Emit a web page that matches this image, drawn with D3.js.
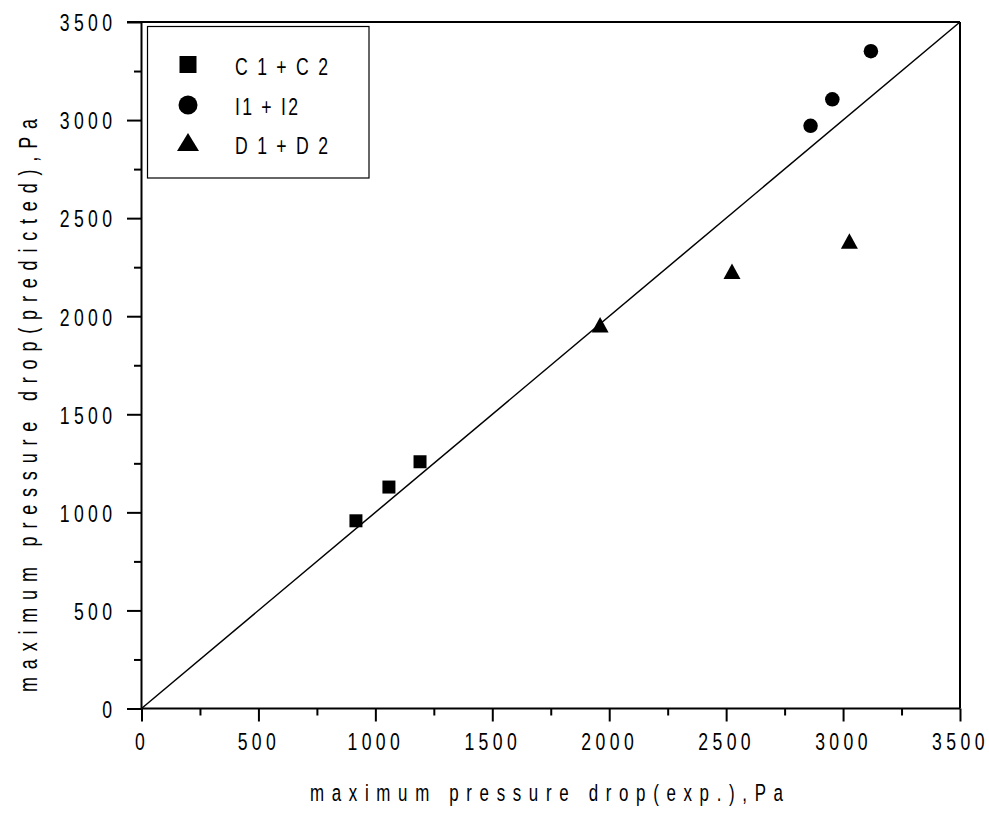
<!DOCTYPE html>
<html>
<head>
<meta charset="utf-8">
<script src="https://cdn.jsdelivr.net/npm/d3@7/dist/d3.min.js"></script>
<style>
  html, body { margin: 0; padding: 0; background: #fff; }
  svg { display: block; }
  text { font-family: "Liberation Sans", Arial, sans-serif; fill: #000; }
</style>
</head>
<body>
<script>
// Measured vs. predicted maximum pressure drop (Pa)
const seriesNames = ["C 1 + C 2", "I1 + I2", "D 1 + D 2"];
const seriesShapes = ["square", "circle", "triangle"];
const cExp  = [917, 1058, 1191];
const cPred = [957, 1129, 1258];
const iExp  = [2861, 2954, 3119];
const iPred = [2971, 3106, 3351];
const dExp  = [1961, 2525, 3027];
const dPred = [1957, 2229, 2383];
const majorTicks = [0, 500, 1000, 1500, 2000, 2500, 3000, 3500];
const minorTicks = [250, 750, 1250, 1750, 2250, 2750, 3250];
const parityLine = [0, 3500];
const xTitle = "maximum pressure drop(exp.),Pa";
const yTitle = "maximum pressure drop(predicted),Pa";

const W = 989, H = 818;
const SX = 0.72;          // horizontal condensing of all lettering
const tickFont = 24.5;
const tickSpacing = 6.1;  // letter-spacing before condensing

const svg = d3.select("body").append("svg").attr("width", W).attr("height", H);

const x = d3.scaleLinear().domain([0, 3500]).range([141.5, 960]);
const y = d3.scaleLinear().domain([0, 3500]).range([708.5, 22]);

// Marker shapes with bounding box centred on the point
function shapeType(kind, w, h) {
  return {
    draw(ctx) {
      if (kind === "square") {
        ctx.rect(-w / 2, -w / 2, w, w);
      } else if (kind === "circle") {
        ctx.moveTo(w / 2, 0);
        ctx.arc(0, 0, w / 2, 0, 2 * Math.PI);
      } else {
        ctx.moveTo(0, -h / 2);
        ctx.lineTo(w / 2, h / 2);
        ctx.lineTo(-w / 2, h / 2);
        ctx.closePath();
      }
    }
  };
}
const plotShapes = {
  square: shapeType("square", 13),
  circle: shapeType("circle", 14.5),
  triangle: shapeType("triangle", 17, 15.5)
};
const legendShapes = {
  square: shapeType("square", 17),
  circle: shapeType("circle", 19),
  triangle: shapeType("triangle", 22, 18)
};

// Frame (top and right)
svg.append("line").attr("x1", x(0) - 14.5).attr("x2", x(3500)).attr("y1", y(3500)).attr("y2", y(3500))
  .attr("stroke", "#000").attr("stroke-width", 2);
svg.append("line").attr("x1", x(3500)).attr("x2", x(3500)).attr("y1", y(3500)).attr("y2", y(0))
  .attr("stroke", "#000").attr("stroke-width", 2);

// Parity line y = x
svg.append("line")
  .attr("x1", x(parityLine[0])).attr("y1", y(parityLine[0]))
  .attr("x2", x(parityLine[1])).attr("y2", y(parityLine[1]))
  .attr("stroke", "#000").attr("stroke-width", 1.5);

// Axes
const xAxis = svg.append("g").attr("transform", `translate(0,${y(0)})`)
  .call(d3.axisBottom(x).tickValues(majorTicks).tickSize(13).tickPadding(11).tickFormat(d3.format("d")));
svg.append("g").attr("transform", `translate(0,${y(0)})`)
  .call(d3.axisBottom(x).tickValues(minorTicks).tickSize(7).tickFormat(""));
const yAxis = svg.append("g").attr("transform", `translate(${x(0)},0)`)
  .call(d3.axisLeft(y).tickValues(majorTicks).tickSize(14.5).tickPadding(10).tickFormat(d3.format("d")));
svg.append("g").attr("transform", `translate(${x(0)},0)`)
  .call(d3.axisLeft(y).tickValues(minorTicks).tickSize(7.5).tickFormat(""));

svg.selectAll(".domain").remove();
svg.selectAll(".tick line").attr("stroke", "#000").attr("stroke-width", 2);
svg.selectAll(".tick text")
  .style("font-family", '"Liberation Sans", Arial, sans-serif')
  .style("font-size", tickFont + "px")
  .style("letter-spacing", tickSpacing + "px")
  .attr("transform", `scale(${SX},1)`);
xAxis.selectAll(".tick text").attr("x", 0);
yAxis.selectAll(".tick text").attr("x", -25 / SX).attr("dy", "0.36em");

// Axis lines
svg.append("line").attr("x1", x(0)).attr("x2", x(3500)).attr("y1", y(0)).attr("y2", y(0))
  .attr("stroke", "#000").attr("stroke-width", 2);
svg.append("line").attr("x1", x(0)).attr("x2", x(0)).attr("y1", y(0)).attr("y2", y(3500))
  .attr("stroke", "#000").attr("stroke-width", 2);

// Condensed text helper: left-anchored text fitted to a given drawn width
function fittedText(parent, transform, str, size, width) {
  return parent.append("g").attr("transform", `${transform} scale(${SX},1)`)
    .append("text")
    .attr("x", 0).attr("y", 0)
    .attr("textLength", width / SX).attr("lengthAdjust", "spacing")
    .style("font-size", size + "px")
    .text(str);
}

// Axis titles
fittedText(svg, "translate(310,801)", xTitle, 23.5, 473);
svg.append("g").attr("transform", "translate(37,692) rotate(-90)")
  .call(g => fittedText(g, "", yTitle, 25, 573));

// Data points
const series = [
  { xs: cExp, ys: cPred, shape: seriesShapes[0] },
  { xs: iExp, ys: iPred, shape: seriesShapes[1] },
  { xs: dExp, ys: dPred, shape: seriesShapes[2] }
];
series.forEach(s => {
  const pts = s.xs.map((v, i) => [v, s.ys[i]]);
  svg.append("g").selectAll("path").data(pts).join("path")
    .attr("transform", d => `translate(${x(d[0])},${y(d[1])})`)
    .attr("d", d3.symbol().type(plotShapes[s.shape])())
    .attr("fill", "#000");
});

// Legend
const legend = svg.append("g");
legend.append("rect").attr("x", 147.5).attr("y", 26.5).attr("width", 221.5).attr("height", 151.5)
  .attr("fill", "#fff").attr("stroke", "#000").attr("stroke-width", 1.2);
const rowY = [64.5, 105, 142];
const textBase = [75, 115, 154];
const textWidth = [93, 63, 93];
seriesNames.forEach((name, i) => {
  legend.append("path")
    .attr("transform", `translate(188,${rowY[i]})`)
    .attr("d", d3.symbol().type(legendShapes[seriesShapes[i]])())
    .attr("fill", "#000");
  fittedText(legend, `translate(235,${textBase[i]})`, name, 24.5, textWidth[i]);
});
</script>
</body>
</html>
